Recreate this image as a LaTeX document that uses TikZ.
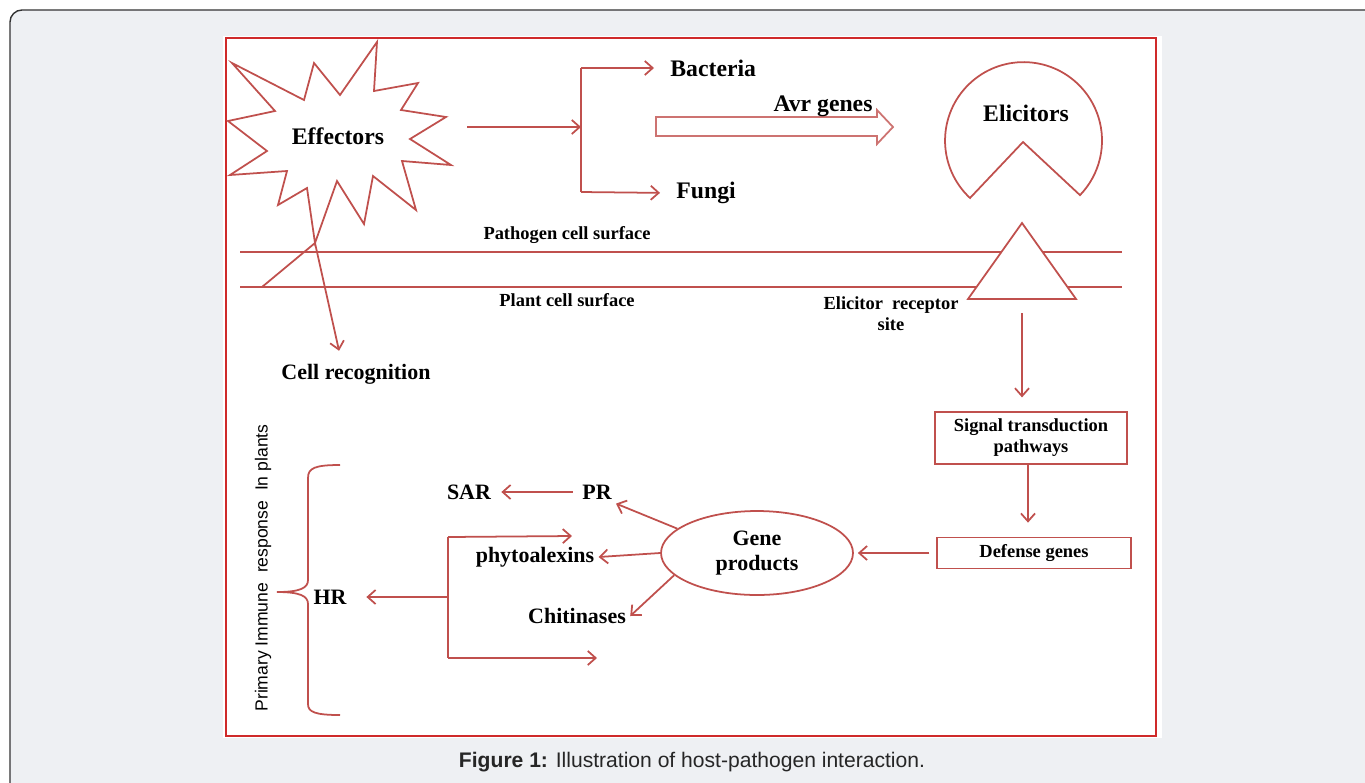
\documentclass[tikz,border=0pt]{standalone}
\usepackage{fontspec}
\setmainfont{Liberation Serif}
\setsansfont{Liberation Sans}
\usetikzlibrary{shapes.geometric,arrows.meta}
\definecolor{linered}{HTML}{C0504D}
\definecolor{framered}{HTML}{CF2A2A}
\definecolor{pagegray}{HTML}{EEF0F3}
\definecolor{framegray}{HTML}{333333}
\begin{document}
\begin{tikzpicture}[x=0.02cm, y=-0.02cm, line width=1pt, color=linered,
    >={Straight Barb[length=4.5pt, width=8pt]},
    every node/.style={text=black, inner sep=2pt},
    biglbl/.style={font=\bfseries\fontsize{13.5}{15}\selectfont},
    midlbl/.style={font=\bfseries\fontsize{12.5}{14.5}\selectfont, align=center},
    smalllbl/.style={font=\bfseries\fontsize{10.5}{12}\selectfont, align=center},
    flowbox/.style={draw=linered, rectangle, smalllbl}]
  \useasboundingbox (0,0) rectangle (1365,782);
  % Card and panel:
  % grey card with a rounded border, white panel framed in red
  \path [draw=framegray, fill=pagegray, rounded corners=0.24cm, line width=0.8pt] (10,10) rectangle (1420,840);
  \path [fill=white] (223,36) rectangle (1162,738);
  \path [draw=framered, line width=1.6pt] (226,38) rectangle (1156,736);

  % Effectors star, drawn point by point
  \path [draw=linered, fill=white] (377,42) -- (374,91) -- (418,83) -- (401,110) -- (446,117) -- (410,139)
    -- (451,165) -- (402,161) -- (416,210) -- (373,176) -- (364,224) -- (337,181) -- (315,243)
    -- (307,188) -- (278,205) -- (287,171) -- (230,175) -- (267,151) -- (228,121) -- (275,111)
    -- (232,63) -- (304,100) -- (314,63) -- (340,95) -- cycle;
  \node [biglbl] (effectors) at (338,136) {Effectors};

  % Split into Bacteria and Fungi
  \coordinate (effout) at (467,127);
  \coordinate (split) at (581,127);
  \coordinate (splittop) at (581,68);
  \coordinate (splitbot) at (581,192);
  \node [biglbl, anchor=west] (bacteria) at (666,68) {Bacteria};
  \node [biglbl, anchor=west] (fungi) at (672,193) {Fungi};
  \draw [->] (effout) -- (split);
  \draw (splittop) -- (splitbot);
  \draw [->, shorten >=0.24cm] (splittop) -- (bacteria.west);
  \draw [->, shorten >=0.24cm] (splitbot) -- (fungi.west);

  % Avr genes: hollow block arrow, label sits on its top edge
  \path [draw=linered!80, fill=white] (656,117) -- (877,117) -- (877,110) -- (893,127) -- (877,144)
    -- (877,136) -- (656,136) -- cycle;
  \node [biglbl] (avr) at (823,106) {Avr genes};

  % Elicitors: circle with a wedge cut out of its bottom
  \path [draw=linered, fill=white] (970,198) arc [start angle=227, end angle=-44, radius=1.57cm]
    -- (1023,142) -- cycle;
  \node [biglbl] (elicitors) at (1026,113) {Elicitors};

  % Cell surfaces
  \draw (240,252) -- (1122,252);
  \draw (240,287) -- (1122,287);
  \node [smalllbl] (pathogen) at (567,235) {Pathogen cell surface};
  \node [smalllbl] (plant) at (567,300) {Plant cell surface};

  % Receptor triangle covers the two lines
  \path [draw=linered, fill=white] (1022,223) -- (1076,299) -- (968,299) -- cycle;
  \coordinate (receptor) at (1022,299);
  \node [smalllbl] (site) at (891,314) {Elicitor\ \ receptor\\site};

  % Cell recognition
  \coordinate (startip) at (315,243);
  \draw (startip) -- (262,287);
  \node [midlbl] (cellrec) at (356,374) {Cell recognition};
  \draw [->, shorten >=0.18cm] (startip) -- ([xshift=-0.3cm]cellrec.north);

  % Signalling chain on the right
  \node [flowbox, minimum width=3.83cm, minimum height=1.03cm] (signal) at (1031,438) {Signal transduction\\pathways};
  \node [flowbox, minimum width=3.87cm, minimum height=0.62cm] (defense) at (1034,553) {Defense genes};
  \node [ellipse, draw=linered, minimum width=3.84cm, minimum height=1.68cm, inner sep=0pt, midlbl] (gene) at (757,553) {Gene\\products};
  \draw [->, shorten <=0.28cm, shorten >=0.28cm] (receptor) -- (receptor |- signal.north);
  \draw [->, shorten >=0.28cm] ([xshift=-0.06cm]signal.south) -- ([xshift=-0.06cm]signal.south |- defense.north);
  \draw [->, shorten <=0.14cm, shorten >=0.08cm] (defense.west) -- (gene.east);

  % Gene products
  \node [midlbl] (pr) at (597,492) {PR};
  \node [midlbl] (sar) at (469,492) {SAR};
  \node [midlbl] (phyto) at (535,557) {phytoalexins};
  \node [midlbl] (chit) at (577,616) {Chitinases};
  \node [midlbl] (hr) at (330,597) {HR};
  \draw [->] (gene.163) -- (pr.south east);
  \draw [->] (gene.west) -- (phyto.east);
  \draw [->] (gene.195) -- (chit.east);
  \draw [->, shorten <=0.1cm, shorten >=0.12cm] (pr.west) -- (sar.east);

  % HR branches
  \coordinate (hrsplit) at (448,597);
  \coordinate (hrtop) at (448,537);
  \coordinate (hrbot) at (448,658);
  \coordinate (hrtopend) at (572,536);
  \coordinate (hrbotend) at (597,658);
  \draw (hrtop) -- (hrbot);
  \draw [->] (hrtop) -- (hrtopend);
  \draw [->] (hrbot) -- (hrbotend);
  \draw [->, shorten >=0.31cm] (hrsplit) -- (hr.east);

  % Brace and its side label
  \draw (340,465) .. controls (315,465) and (308,468) .. (308,478) -- (308,580)
    .. controls (308,588) and (300,592) .. (277,592) .. controls (300,592) and (308,596) .. (308,604)
    -- (308,704) .. controls (308,712) and (315,715) .. (340,715);
  \node [font=\sffamily\fontsize{10}{12}\selectfont, rotate=90] (primary) at (263,568) {Primary Immune\ \ response\ \ In plants};

  % Caption
  \node [font=\sffamily\fontsize{12}{14}\selectfont, text=black!85] (caption) at (692,762) {\textbf{Figure 1:} Illustration of host-pathogen interaction.};
\end{tikzpicture}
\end{document}
